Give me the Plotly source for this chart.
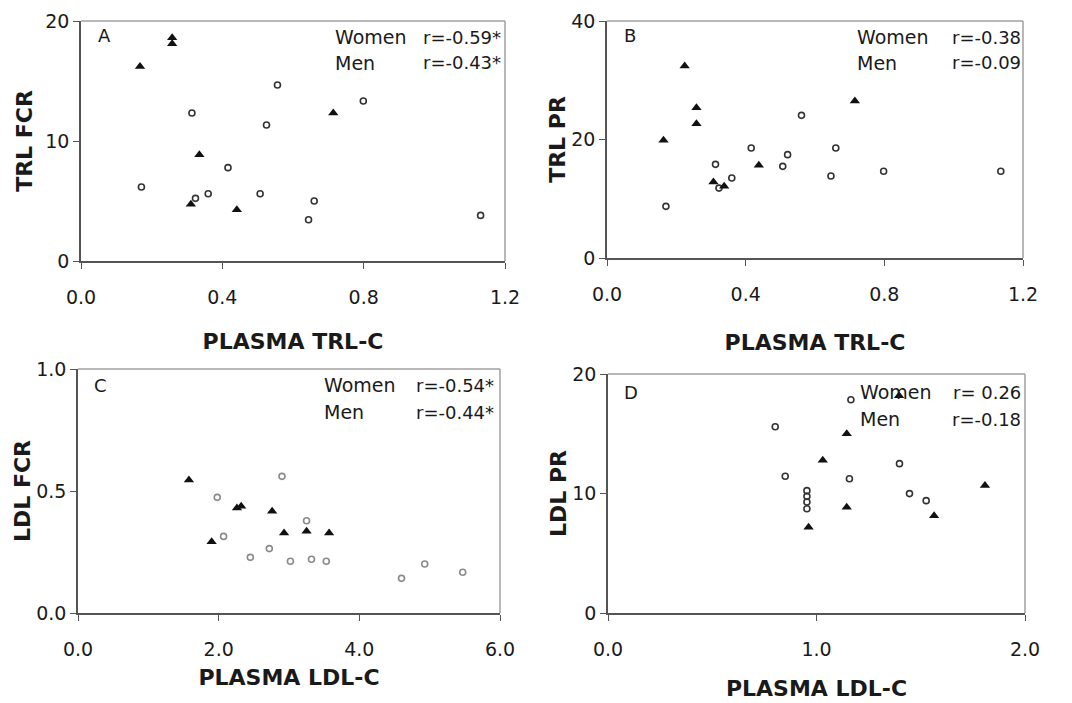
import plotly.graph_objects as go

# page is rendered with the browser's default 8px body margin
PAGE_MARGIN = 8
W, H = 1072 - PAGE_MARGIN, 703 - PAGE_MARGIN

# ---------------- data ----------------
# Panel A: TRL FCR vs plasma TRL-C
a_women_x = [0.171, 0.314, 0.556, 0.799, 0.525, 0.416, 0.324, 0.360, 0.507, 0.660, 0.644, 1.131]
a_women_y = [6.17, 12.33, 14.67, 13.33, 11.33, 7.78, 5.22, 5.61, 5.61, 5.00, 3.44, 3.80]
a_men_x = [0.167, 0.258, 0.258, 0.335, 0.311, 0.441, 0.714]
a_men_y = [16.2, 18.6, 18.1, 8.86, 4.72, 4.28, 12.33]

# Panel B: TRL PR vs plasma TRL-C
b_women_x = [0.170, 0.313, 0.360, 0.323, 0.416, 0.507, 0.521, 0.561, 0.646, 0.660, 0.798, 1.136]
b_women_y = [8.72, 15.81, 13.5, 11.8, 18.57, 15.47, 17.44, 24.08, 13.84, 18.57, 14.63, 14.63]
b_men_x = [0.163, 0.224, 0.258, 0.258, 0.307, 0.338, 0.438, 0.715]
b_men_y = [19.86, 32.4, 25.37, 22.67, 12.83, 12.1, 15.64, 26.5]

# Panel C: LDL FCR vs plasma LDL-C
c_women_x = [1.98, 2.07, 2.45, 2.72, 2.90, 3.02, 3.25, 3.32, 3.53, 4.60, 4.93, 5.47]
c_women_y = [0.474, 0.314, 0.228, 0.264, 0.560, 0.212, 0.378, 0.220, 0.212, 0.142, 0.201, 0.167]
c_men_x = [1.577, 1.90, 2.26, 2.32, 2.76, 2.93, 3.25, 3.57]
c_men_y = [0.545, 0.292, 0.430, 0.437, 0.417, 0.328, 0.335, 0.328]

# Panel D: LDL PR vs plasma LDL-C
d_women_x = [0.802, 0.850, 0.954, 0.954, 0.954, 0.954, 1.165, 1.158, 1.398, 1.446, 1.526]
d_women_y = [15.59, 11.44, 10.24, 9.76, 9.29, 8.73, 17.85, 11.24, 12.5, 9.99, 9.40]
d_men_x = [0.962, 1.03, 1.145, 1.145, 1.396, 1.564, 1.808]
d_men_y = [7.17, 12.78, 15.0, 8.84, 18.19, 8.14, 10.66]

panel_letters = ["A", "B", "C", "D"]
y_titles = ["TRL FCR", "TRL PR", "LDL FCR", "LDL PR"]
x_titles = ["PLASMA TRL-C", "PLASMA TRL-C", "PLASMA LDL-C", "PLASMA LDL-C"]
women_r = ["r=-0.59*", "r=-0.38", "r=-0.54*", "r= 0.26"]
men_r = ["r=-0.43*", "r=-0.09", "r=-0.44*", "r=-0.18"]

x_ranges = [[0, 1.2], [0, 1.2], [0, 6], [0, 2]]
x_dticks = [0.4, 0.4, 2, 1]
y_ranges = [[0, 20], [0, 40], [0, 1], [0, 20]]
y_dticks = [10, 20, 0.5, 10]
y_formats = ["d", "d", ".1f", "d"]

# ---------------- layout geometry (page pixels) ----------------
boxes = [  # left, right, top, bottom
    (81, 505, 21, 261),
    (607, 1023, 21, 258),
    (78, 500, 369, 613),
    (608, 1025, 374, 613),
]
women_colors = ["#333333", "#333333", "#8a8a8a", "#333333"]

panels = [
    (a_women_x, a_women_y, a_men_x, a_men_y),
    (b_women_x, b_women_y, b_men_x, b_men_y),
    (c_women_x, c_women_y, c_men_x, c_men_y),
    (d_women_x, d_women_y, d_men_x, d_men_y),
]

letter_pos = [(96, 35), (622, 35), (92, 385), (622, 392)]
women_left = [333, 855, 322, 858]
r_right = [503, 1023, 496, 1023]
line1_y = [37, 37, 385, 392]
line2_y = [63, 63, 412, 419]
xtitle_standoff = [27, 31, 11, 22]
ytitle_standoff = [7, 0, 0, 0]

TEXT = "#1a1a1a"
FONT = "DejaVu Sans"

fig = go.Figure()
layout = dict(
    width=W, height=H, margin=dict(l=0, r=0, t=0, b=0, autoexpand=False),
    paper_bgcolor="white", plot_bgcolor="white", showlegend=False,
    font=dict(family=FONT, color=TEXT),
)

annotations = []
shapes = []


def px(x):
    return (x - PAGE_MARGIN) / W


def py(y):
    return 1 - (y - PAGE_MARGIN) / H


for i, (wx, wy, mx, my) in enumerate(panels):
    n = "" if i == 0 else str(i + 1)
    xa, ya = "x" + n, "y" + n
    l, r, t, b = boxes[i]
    fig.add_trace(go.Scatter(
        x=wx, y=wy, xaxis=xa, yaxis=ya, mode="markers", name="Women",
        marker=dict(symbol="circle-open", size=6, color=women_colors[i],
                    line=dict(width=1.6, color=women_colors[i])),
        cliponaxis=False))
    fig.add_trace(go.Scatter(
        x=mx, y=my, xaxis=xa, yaxis=ya, mode="markers", name="Men",
        marker=dict(symbol="triangle-up", size=9, color="#111111"),
        cliponaxis=False))

    layout["xaxis" + n] = dict(
        domain=[px(l), px(r)], anchor=ya, range=x_ranges[i], dtick=x_dticks[i],
        tick0=0, tickformat=".1f", showgrid=False, zeroline=False, automargin=False,
        showline=True, linecolor="#555555", linewidth=1.5,
        ticks="outside", ticklen=6, tickcolor="#555555", tickwidth=1.2,
        tickfont=dict(family=FONT, size=19, color=TEXT), ticklabelstandoff=12,
        title=dict(text="<b>" + x_titles[i] + "</b>", standoff=xtitle_standoff[i],
                   font=dict(family=FONT, size=22, color=TEXT)),
    )
    layout["yaxis" + n] = dict(
        domain=[py(b), py(t)], anchor=xa, range=y_ranges[i], dtick=y_dticks[i],
        tick0=0, tickformat=y_formats[i], showgrid=False, zeroline=False, automargin=False,
        showline=True, linecolor="#555555", linewidth=1.5,
        ticks="outside", ticklen=6, tickcolor="#555555", tickwidth=1.2,
        tickfont=dict(family=FONT, size=19, color=TEXT), ticklabelstandoff=0,
        title=dict(text="<b>" + y_titles[i] + "</b>", standoff=ytitle_standoff[i],
                   font=dict(family=FONT, size=22, color=TEXT)),
    )
    # light frame on top/right
    shapes.append(dict(type="line", xref="paper", yref="paper",
                       x0=px(l), x1=px(r), y0=py(t), y1=py(t),
                       line=dict(color="#a0a0a0", width=1.5), layer="below"))
    shapes.append(dict(type="line", xref="paper", yref="paper",
                       x0=px(r), x1=px(r), y0=py(t), y1=py(b),
                       line=dict(color="#a0a0a0", width=1.5), layer="below"))

    lx, ly = letter_pos[i]
    annotations.append(dict(text=panel_letters[i], xref="paper", yref="paper",
                            x=px(lx), y=py(ly), xanchor="left", yanchor="middle",
                            showarrow=False, font=dict(size=18, color=TEXT)))
    annotations.append(dict(text="Women", xref="paper", yref="paper",
                            x=px(women_left[i]), y=py(line1_y[i]), xanchor="left",
                            yanchor="middle", showarrow=False, font=dict(size=19, color=TEXT)))
    annotations.append(dict(text="Men", xref="paper", yref="paper",
                            x=px(women_left[i]), y=py(line2_y[i]), xanchor="left",
                            yanchor="middle", showarrow=False, font=dict(size=19, color=TEXT)))
    annotations.append(dict(text=women_r[i], xref="paper", yref="paper",
                            x=px(r_right[i]), y=py(line1_y[i]), xanchor="right",
                            yanchor="middle", showarrow=False, font=dict(size=18, color=TEXT)))
    annotations.append(dict(text=men_r[i], xref="paper", yref="paper",
                            x=px(r_right[i]), y=py(line2_y[i]), xanchor="right",
                            yanchor="middle", showarrow=False, font=dict(size=18, color=TEXT)))

layout["annotations"] = annotations
layout["shapes"] = shapes
fig.update_layout(**layout)
fig.write_html("out.html")
